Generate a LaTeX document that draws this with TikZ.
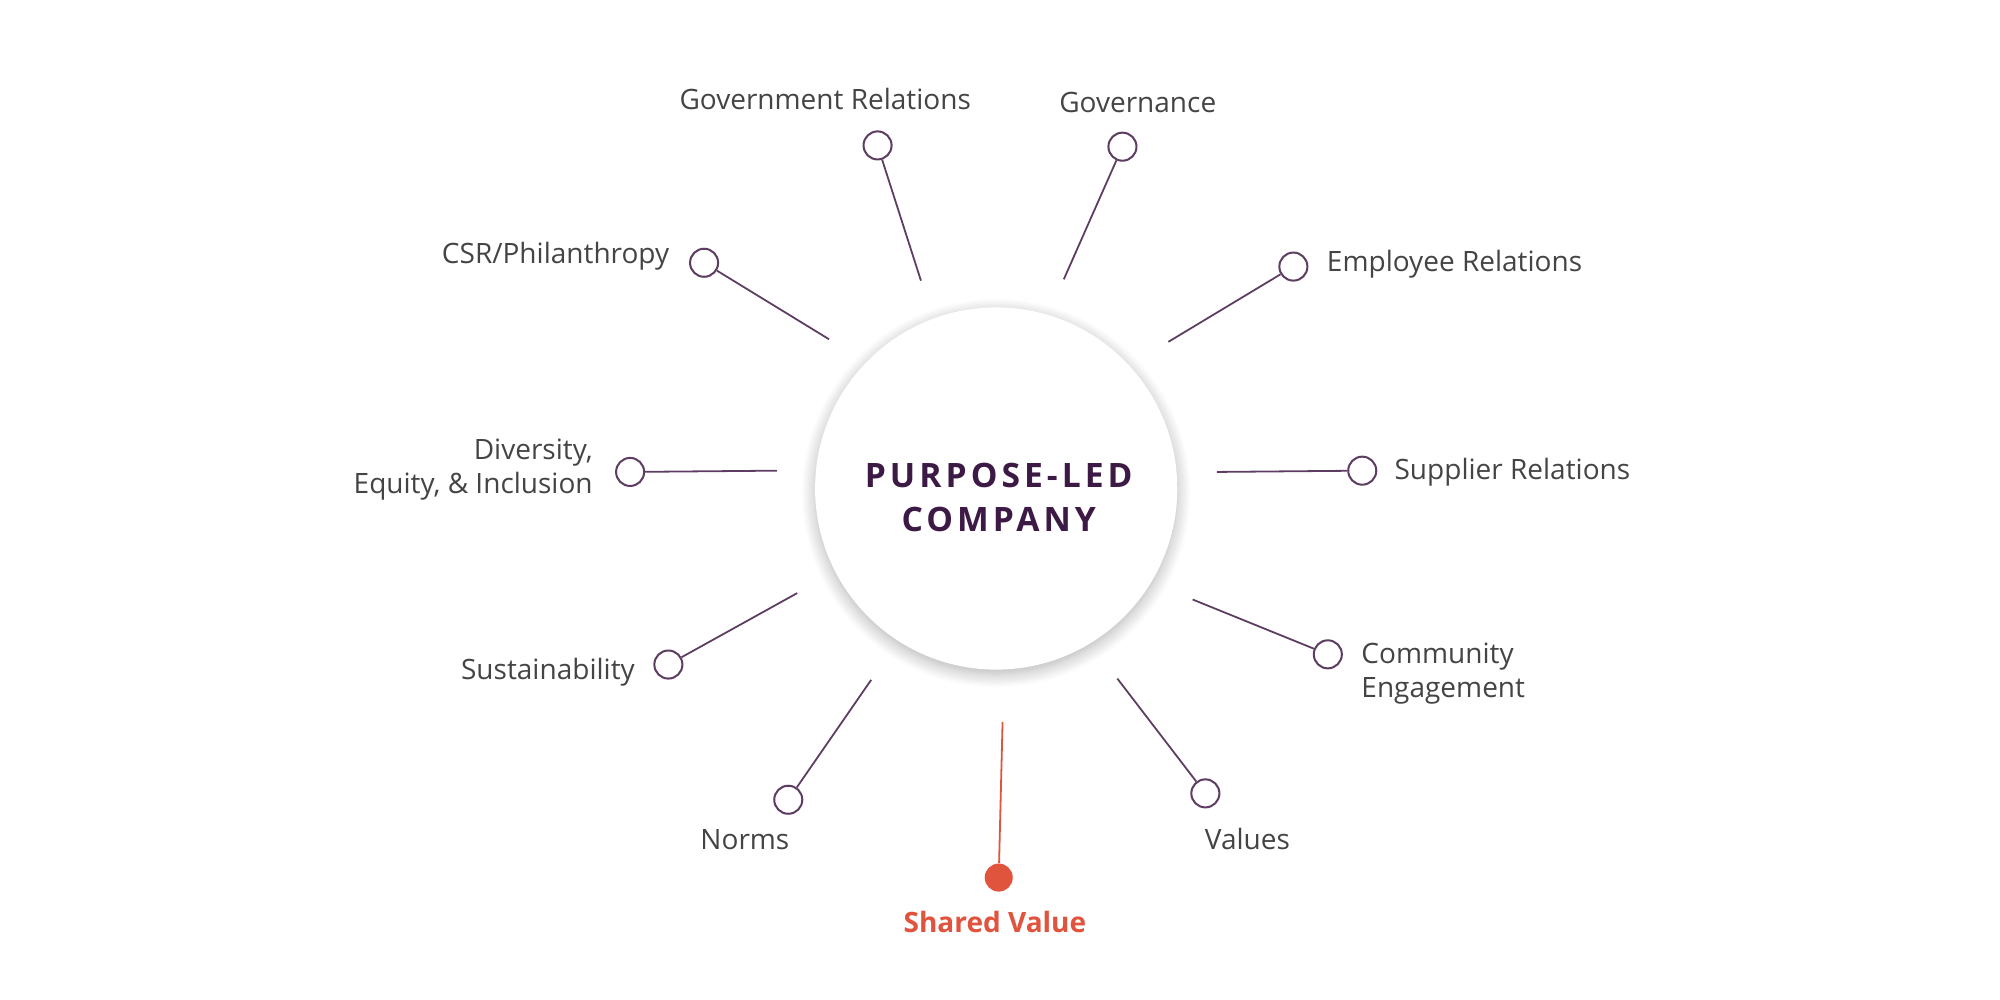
\documentclass[tikz,border=0pt]{standalone}
\usepackage{fontspec}
\setmainfont{Open Sans}
\newfontfamily\titlefont[LetterSpace=12]{Open Sans}
\usetikzlibrary{shadows,shadows.blur}
\definecolor{plum}{HTML}{3D1A45}
\definecolor{spoke}{HTML}{5E3D62}
\definecolor{txt}{HTML}{444444}
\definecolor{accent}{HTML}{E0533D}
\begin{document}
\begin{tikzpicture}[x=0.02cm,y=-0.02cm,
  lab/.style={font=\fontsize{12.5}{15}\selectfont,text=txt,inner sep=0pt},
  knob/.style={circle,draw=spoke,fill=white,line width=0.9pt,minimum size=0.44cm,inner sep=0pt},
  ln/.style={draw=spoke,line width=0.8pt}]
\useasboundingbox (0,0) rectangle (1568,784);
\node[circle,fill=white,minimum size=5.68cm,blur shadow={shadow blur steps=12,shadow xshift=0pt,shadow yshift=-2pt,shadow blur radius=6pt,shadow opacity=30}] (hub) at (781,383) {};
\node[font=\titlefont\bfseries\fontsize{15}{20}\selectfont,text=plum,align=center] (title) at (783,390) {PURPOSE-LED\\COMPANY};
% spokes
\coordinate (a1) at (722,220); \node[knob] (k1) at (688,114) {};
\node[lab] (t1) at (647,78) {Government Relations};
\coordinate (a2) at (834,219); \node[knob] (k2) at (880,115) {};
\node[lab] (t2) at (892,80) {Governance};
\coordinate (a3) at (916,268); \node[knob] (k3) at (1014,209) {};
\node[lab,anchor=west] (t3) at (1040,207) {Employee Relations};
\coordinate (a4) at (954,370); \node[knob] (k4) at (1068,369) {};
\node[lab,anchor=west] (t4) at (1093,370) {Supplier Relations};
\coordinate (a5) at (935,470); \node[knob] (k5) at (1041,513) {};
\node[lab,anchor=west,align=left] (t5) at (1067,528) {Community\\Engagement};
\coordinate (a6) at (876,532); \node[knob] (k6) at (945,622) {};
\node[lab] (t6) at (978,658) {Values};
\coordinate (a7) at (786,566); \node[circle,fill=accent,minimum size=0.44cm,inner sep=0pt] (k7) at (783,688) {};
\node[lab,text=accent,font=\fontsize{12.5}{15}\selectfont\bfseries] (t7) at (780,723) {Shared Value};
\coordinate (a8) at (683,533); \node[knob] (k8) at (618,627) {};
\node[lab] (t8) at (584,658) {Norms};
\coordinate (a9) at (625,465); \node[knob] (k9) at (524,521) {};
\node[lab,anchor=east] (t9) at (498,527) {Sustainability};
\coordinate (a10) at (609,369); \node[knob] (k10) at (494,370) {};
\node[lab,anchor=east,align=right] (t10) at (465,368) {Diversity,\\Equity, \& Inclusion};
\coordinate (a11) at (650,266); \node[knob] (k11) at (552,206) {};
\node[lab,anchor=east] (t11) at (525,201) {CSR/Philanthropy};
\foreach \i in {1,2,3,4,5,6,8,9,10,11} \draw[ln] (a\i) -- (k\i);
\draw[draw=accent,line width=0.8pt] (a7) -- (k7);
\end{tikzpicture}
\end{document}
